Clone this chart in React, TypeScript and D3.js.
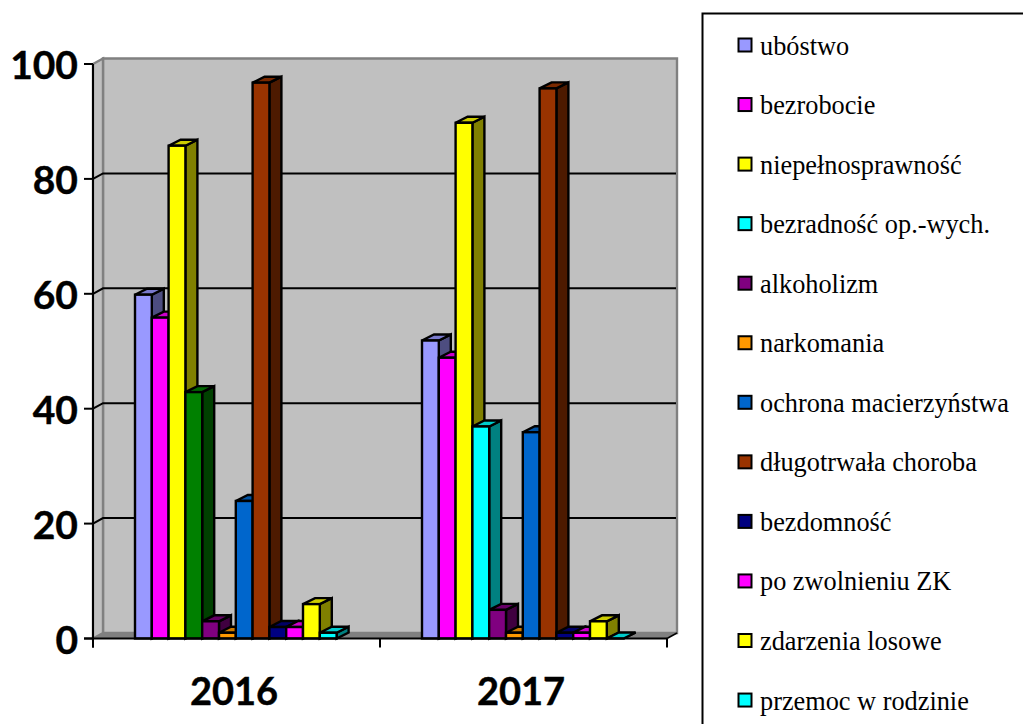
import React from "react";
import * as d3 from "d3";

const years = ["2016", "2017"];
const seriesNames = ["ubóstwo", "bezrobocie", "niepełnosprawność", "bezradność op.-wych.", "alkoholizm", "narkomania", "ochrona macierzyństwa", "długotrwała choroba", "bezdomność", "po zwolnieniu ZK", "zdarzenia losowe", "przemoc w rodzinie"];
const values2016 = [60, 56, 86, 43, 3, 1, 24, 97, 2, 2, 6, 1];
const values2017 = [52, 49, 90, 37, 5, 1, 36, 96, 1, 1, 3, 0];
const legendColors = ["#9999FF", "#FF00FF", "#FFFF00", "#00FFFF", "#800080", "#FF9900", "#0066CC", "#993300", "#000080", "#FF00FF", "#FFFF00", "#00FFFF"];
const colors2016 = ["#9999FF", "#FF00FF", "#FFFF00", "#008000", "#800080", "#FF9900", "#0066CC", "#993300", "#000080", "#FF00FF", "#FFFF00", "#00FFFF"];
const yTicks = [0, 20, 40, 60, 80, 100];

const W = 1023, H = 724;
const x0 = 93, x1 = 667, dx = 10, dy = -5.5;
const barW = 16.8, bdx = 12, bdy = -6;
const y = d3.scaleLinear().domain([0, 100]).range([638.5, 64]);
const yBar = d3.scaleLinear().domain([0, 100]).range([638.5, 65.5]);
const band = d3.scaleBand<string>().domain(years).range([x0, x1]);
const barX = d3.scaleBand<number>().domain(d3.range(12)).range([0, barW * 12]);

const shade = (c: string, k: number) => {
  const r = d3.rgb(c);
  return d3.rgb(r.r * k, r.g * k, r.b * k).formatHex();
};
const sw = 2.4;
const labelFont = "Lato, 'Open Sans', sans-serif";

function Bar({ x, v, color }: { x: number; v: number; color: string }) {
  const t = yBar(v), b = yBar(0);
  const top = `M${x},${t}L${x + bdx},${t + bdy}L${x + barW + bdx},${t + bdy}L${x + barW},${t}Z`;
  const side = `M${x + barW},${t}L${x + barW + bdx},${t + bdy}L${x + barW + bdx},${b + bdy}L${x + barW},${b}Z`;
  return (
    <g stroke="#000" strokeWidth={sw} strokeLinejoin="miter">
      <path d={side} fill={shade(color, 0.5)} />
      <path d={top} fill={shade(color, 0.8)} />
      {v > 0 && <rect x={x} y={t} width={barW} height={b - t} fill={color} />}
    </g>
  );
}

export default function App() {
  const series = [
    { year: years[0], vals: values2016, cols: colors2016 },
    { year: years[1], vals: values2017, cols: legendColors },
  ];
  const groupWidth = barW * 12;
  return (
    <svg width={W} height={H} style={{ position: "absolute", left: 0, top: 0, background: "#fff" }}>
      <path d={`M${x0 + dx},${y(100) + dy}H${x1 + dx}V${y(0) + dy}H${x0 + dx}Z`} fill="#C0C0C0" stroke="#808080" strokeWidth={2.4} />
      <path d={`M${x0},${y(100)}L${x0 + dx},${y(100) + dy}V${y(0) + dy}L${x0},${y(0)}Z`} fill="#C0C0C0" stroke="#808080" strokeWidth={2.4} />
      <path d={`M${x0},${y(0)}L${x0 + dx},${y(0) + dy}H${x1 + dx}L${x1},${y(0)}Z`} fill="#808080" />
      {yTicks.filter(t => t > 0 && t < 100).map(t => (
        <path key={t} d={`M${x0},${y(t)}L${x0 + dx},${y(t) + dy}H${x1 + dx - 1}`} fill="none" stroke="#000" strokeWidth={2} />
      ))}
      {series.map(s => {
        const start = band(s.year)! + (band.bandwidth() - groupWidth) / 2 - 0.7;
        return s.vals.map((v, i) => <Bar key={s.year + i} x={start + barX(i)!} v={v} color={s.cols[i]} />);
      })}
      <path d={`M${x0},${y(100)}V${y(0) + 9}`} stroke="#000" strokeWidth={2} fill="none" />
      <path d={`M${x0 - 9},${y(0)}H${x1}`} stroke="#000" strokeWidth={2} fill="none" />
      <path d={`M${x1},${y(0)}L${x1 + dx},${y(0) + dy}`} stroke="#000" strokeWidth={1.5} fill="none" />
      {[x0, x0 + band.bandwidth(), x1].map(t => (
        <path key={t} d={`M${t},${y(0)}V${y(0) + 9}`} stroke="#000" strokeWidth={2} />
      ))}
      {yTicks.map(t => (
        <g key={t}>
          <path d={`M${x0 - 9},${y(t)}H${x0}`} stroke="#000" strokeWidth={2} />
          <text x={78} y={y(t) + 15} textAnchor="end" fontFamily={labelFont} fontWeight={700} fontSize={39} fill="#000" stroke="#000" strokeWidth={0.4}>{t}</text>
        </g>
      ))}
      {years.map(yr => (
        <text key={yr} x={band(yr)! + band.bandwidth() / 2 - 2.5} y={705} textAnchor="middle" fontFamily={labelFont} fontWeight={700} fontSize={38} fill="#000" stroke="#000" strokeWidth={0.4}>{yr}</text>
      ))}
      <rect x={702.5} y={13.5} width={330} height={720} fill="#fff" stroke="#000" strokeWidth={2} />
      {seriesNames.map((n, i) => {
        const cy = 45.5 + i * 59.55;
        return (
          <g key={n}>
            <rect x={738.5} y={cy - 7} width={13} height={13} fill={legendColors[i]} stroke="#000" strokeWidth={2} />
            <text x={760} y={cy + 9} fontFamily="'Liberation Serif', serif" fontSize={26.3} fill="#000">{n}</text>
          </g>
        );
      })}
    </svg>
  );
}
